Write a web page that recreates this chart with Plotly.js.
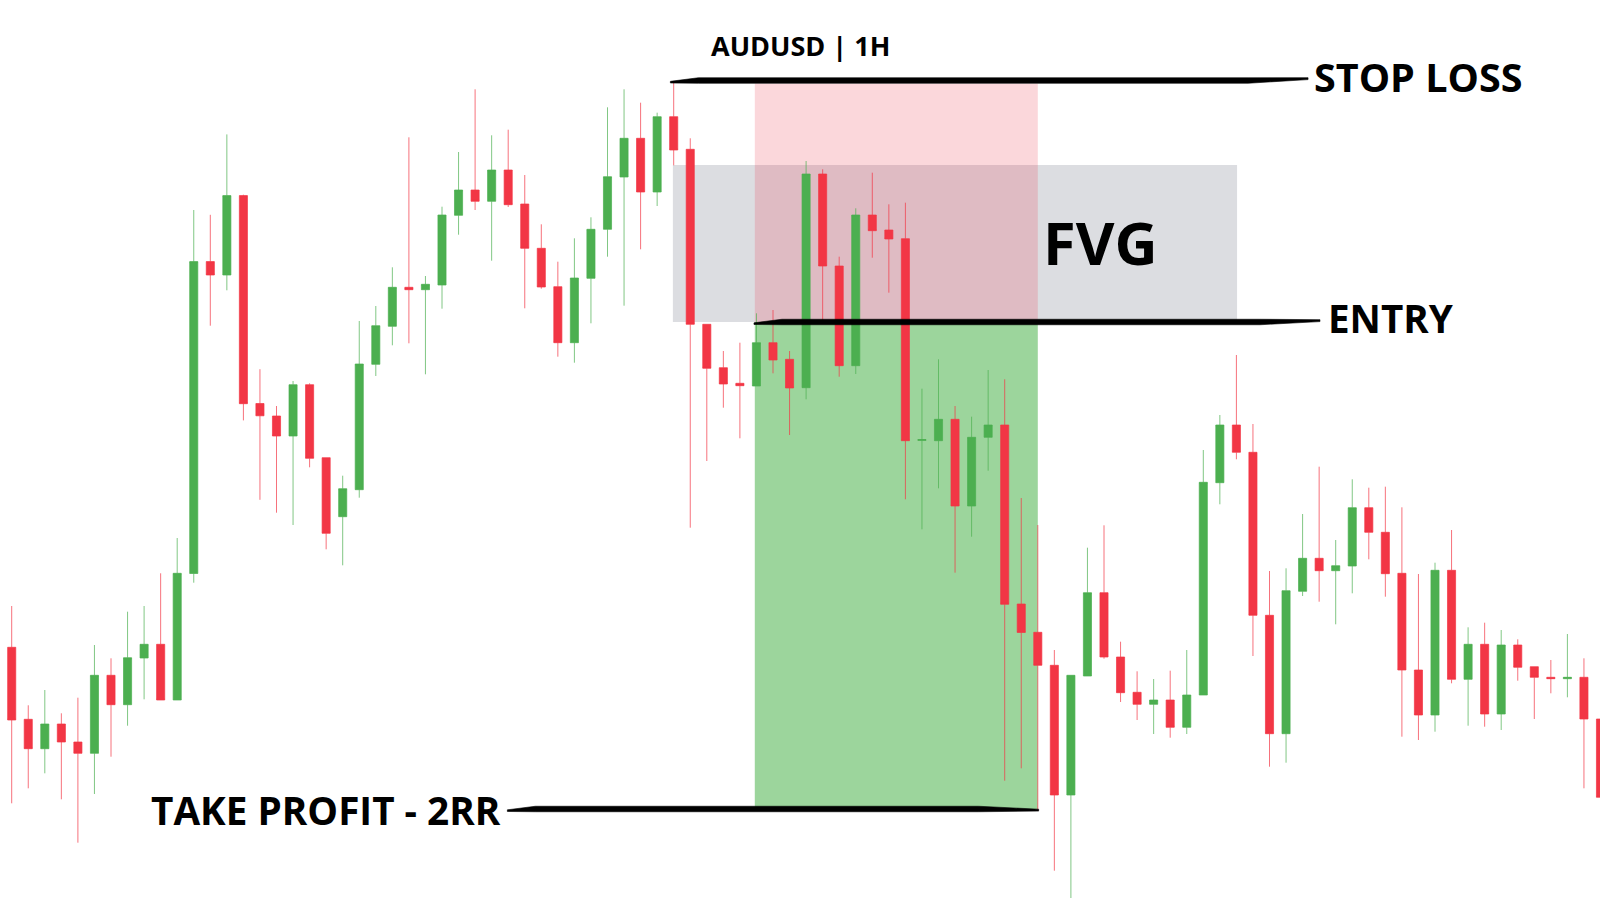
<!DOCTYPE html>
<html>
<head>
<meta charset="utf-8">
<script src="https://cdn.plot.ly/plotly-3.0.1.min.js"></script>
<style>
  html, body { margin: 0; padding: 0; background: #ffffff; }
  #chart { width: 1600px; height: 900px; }
</style>
</head>
<body>
<div id="chart"></div>
<script>
// ---- Data (price in pips above an arbitrary base) ----
const openP  = [307, 252.7, 180.7, 151.3, 176, 158, 146.7, 224.7, 195.3, 242, 255.7,
  200, 326.5, 638.4, 625, 704.4, 496.5, 484, 464, 515.3, 442.3,
  383.3, 410.3, 535.7, 573.7, 612.7, 610.3, 615, 684.7, 710, 698.7,
  730, 696, 651.7, 613.3, 557.3, 621.7, 670.7, 723, 761.7, 708,
  783.3, 750.7, 575.7, 532.3, 516.7, 514, 557.3, 540.7, 512.3, 726,
  634, 534.3, 685, 670, 661.3, 459.5, 459.3, 480.7, 394, 462.7,
  475, 296, 267.7, 234.7, 105, 224, 307.3, 243, 207.7, 195.7,
  200, 172.7, 205, 417.3, 475, 447.7, 284.7, 166.3, 308.7, 341.7,
  329.3, 334, 392.3, 367.7, 326.7, 230, 185, 329.7, 220.7, 255.7,
  186, 255, 233.3, 222.7, 221.3, 222.7, 181];
const highP  = [308, 294, 194.7, 210, 186.7, 202.3, 255, 241.7, 288.3, 294, 326.7,
  362, 690, 685.2, 765.6, 705.3, 530.8, 494, 519, 516.7, 442.3,
  424.3, 579, 594, 632.7, 762.7, 624, 693.3, 748, 810.7, 764.7,
  770.3, 725, 675.7, 638.3, 661.7, 682.7, 792.7, 810.7, 797.3, 787.3,
  819, 761.7, 575.7, 549, 557.3, 586.7, 590, 549, 739, 730.7,
  643.3, 691.7, 727.3, 695.7, 697.3, 511.3, 540.7, 494, 483.3, 530,
  520.7, 402, 375, 250, 224.7, 352.3, 374.7, 258.3, 228.7, 221,
  229.3, 250, 450, 485, 545, 476, 329, 331.7, 386, 433.3,
  360, 420.7, 412.3, 413.3, 392.7, 326, 337.3, 370, 272.7, 277.3,
  270, 260.7, 233.3, 240, 266, 241.7, 216.7];
const lowP   = [250, 96.7, 111.7, 126.7, 100.7, 57.3, 106, 143.3, 174.3, 200.7, 200,
  200, 317.3, 574.3, 609.7, 479.6, 400.2, 387.3, 375, 432.7, 350.7,
  334.7, 402.3, 524, 554.7, 556.7, 525.7, 591.3, 665.3, 690, 639.3,
  693, 591.7, 611.3, 543.3, 537.3, 576.7, 643.3, 594.3, 650.7, 694,
  734.7, 372.3, 439, 492.3, 461.7, 514, 526.7, 465, 500.7, 578,
  523.3, 526, 642.3, 607.3, 400.7, 370.7, 411.7, 327.3, 363.3, 429.3,
  119.3, 131.7, 89, 29.3, 2, 224, 241.3, 198, 180, 166,
  162.3, 166, 205, 395.7, 440.7, 244, 133.3, 137.3, 304, 298.3,
  275.7, 306.7, 340.7, 303.3, 163.3, 160, 168.3, 216.7, 174.3, 173.3,
  170, 219.3, 181, 206.7, 202.7, 111.7, 76];
const closeP = [252, 180, 151.3, 176, 158, 146.7, 224.7, 195.3, 242.3, 255.7, 200,
  326.7, 638.4, 625, 704.4, 496.3, 484.2, 464, 515.3, 441.7, 366.7,
  411.3, 536, 574.3, 612.7, 610.3, 615.7, 685, 710, 698.7, 730,
  695.3, 651.7, 613, 557.3, 622, 670.7, 723.3, 761.7, 708, 783.3,
  750, 575.7, 531.7, 516, 514.3, 557.3, 540, 512, 726, 634,
  534.3, 685, 669.3, 661, 459.3, 460.5, 480.7, 394, 462.7, 475,
  295.7, 267.5, 234.7, 105, 224.7, 307.3, 243, 207.3, 195.7, 200,
  172.7, 205, 417.7, 475, 447.7, 284.7, 166.3, 309.3, 341.7, 329.3,
  334.3, 392.3, 367.7, 326.3, 230, 185, 329.7, 220.7, 255.7, 186,
  255, 232.7, 222.7, 221.3, 222.7, 181, 102.7];
const firstBar = -1;   // first (partly cut) bar index

// Trade levels (same price units)
const stopLoss   = 819.5;
const entryLevel = 578;
const takeProfit = 91;
const fvgTop     = 735;
const fvgBottom  = 578;

// Labels
const chartTitle = 'AUDUSD | 1H';
const slLabel = 'STOP LOSS';
const entryLabel = 'ENTRY';
const fvgLabel = 'FVG';
const tpLabel = 'TAKE PROFIT - 2RR';

// ---- Layout geometry (styles / positions) ----
const W = 1600, H = 900;
const xRange = [-0.707, 95.97];
const yRange = [0, 900];
const pxX = (xRange[1] - xRange[0]) / W;   // x units per pixel
const pxY = (yRange[1] - yRange[0]) / H;   // y units per pixel

const bars = openP.map((_, i) => firstBar + i);

// zone bounds along time axis (bar units)
const tradeStart = 44.9, tradeEnd = 62.0;
const fvgStart = 39.95, fvgEnd = 74.04;
const slStart = 39.8, slEnd = 78.33;
const entStart = 44.85, entEnd = 79.05;
const tpStart = 29.95, tpEnd = 62.05;

// hand-drawn tapered stroke
function stroke(x0, x1, lvl, thick, tipRise) {
  const t = thick / 2 * pxY;
  const a = x0, b = x0 + 28 * pxX, c = x1 - 60 * pxX, d = x1;
  const r = tipRise * pxY;
  const pts = [
    [a, lvl - 0.3 * t], [b, lvl + t], [c, lvl + t], [d, lvl + r + 0.3 * t],
    [d, lvl + r - 0.4 * t], [c, lvl - t], [b, lvl - t], [a, lvl - 0.9 * t]
  ];
  return 'M' + pts.map(p => p[0].toFixed(4) + ',' + p[1].toFixed(3)).join(' L') + ' Z';
}

const shapes = [
  { type: 'rect', layer: 'below', xref: 'x', yref: 'y', x0: fvgStart, x1: fvgEnd, y0: fvgBottom, y1: fvgTop,
    fillcolor: '#dcdde1', line: { width: 0 } },
  { type: 'rect', layer: 'below', xref: 'x', yref: 'y', x0: tradeStart, x1: tradeEnd, y0: entryLevel, y1: stopLoss - 3,
    fillcolor: 'rgba(235,55,75,0.2)', line: { width: 0 } },
  { type: 'rect', layer: 'below', xref: 'x', yref: 'y', x0: tradeStart, x1: tradeEnd, y0: takeProfit, y1: entryLevel,
    fillcolor: '#9cd59c', line: { width: 0 } },
  { type: 'path', xref: 'x', yref: 'y', path: stroke(slStart, slEnd, stopLoss, 5.5, 2),
    fillcolor: '#000', line: { width: 0.6, color: '#000' } },
  { type: 'path', xref: 'x', yref: 'y', path: stroke(entStart, entEnd, entryLevel, 5.5, 1.5),
    fillcolor: '#000', line: { width: 0.6, color: '#000' } },
  { type: 'path', xref: 'x', yref: 'y', path: stroke(tpStart, tpEnd, takeProfit, 5.5, -1),
    fillcolor: '#000', line: { width: 0.6, color: '#000' } }
];

const fontBold = 'Open Sans, Lato, DejaVu Sans, sans-serif';
const annotations = [
  { xref: 'x', yref: 'y', x: 47.65, y: 855, text: '<b>' + chartTitle + '</b>', showarrow: false,
    xanchor: 'center', yanchor: 'middle', font: { family: fontBold, size: 27, color: '#000' } },
  { xref: 'x', yref: 'y', x: slEnd + 0.25, y: stopLoss + 4, text: '<b>' + slLabel + '</b>', showarrow: false,
    xanchor: 'left', yanchor: 'middle', font: { family: fontBold, size: 39.5, color: '#000' } },
  { xref: 'x', yref: 'y', x: entEnd + 0.35, y: entryLevel + 4, text: '<b>' + entryLabel + '</b>', showarrow: false,
    xanchor: 'left', yanchor: 'middle', font: { family: fontBold, size: 38.6, color: '#000' } },
  { xref: 'x', yref: 'y', x: 62.2, y: 659, text: '<b>' + fvgLabel + '</b>', showarrow: false,
    xanchor: 'left', yanchor: 'middle', font: { family: fontBold, size: 59.6, color: '#000' } },
  { xref: 'x', yref: 'y', x: tpStart - 0.25, y: takeProfit - 1, text: '<b>' + tpLabel + '</b>', showarrow: false,
    xanchor: 'right', yanchor: 'middle', font: { family: fontBold, size: 38.7, color: '#000' } }
];

const trace = {
  type: 'candlestick',
  x: bars,
  open: openP, high: highP, low: lowP, close: closeP,
  increasing: { line: { color: 'rgba(76,175,80,0.7)', width: 1 }, fillcolor: '#4caf50' },
  decreasing: { line: { color: 'rgba(242,54,69,0.7)', width: 1 }, fillcolor: '#f23645' },
  whiskerwidth: 0,
  hoverinfo: 'skip'
};

const layout = {
  width: W, height: H,
  margin: { l: 0, r: 0, t: 0, b: 0, pad: 0 },
  paper_bgcolor: '#ffffff', plot_bgcolor: '#ffffff',
  showlegend: false,
  boxgap: 0.3,
  xaxis: { type: 'linear', range: xRange, visible: false, showgrid: false, zeroline: false,
           rangeslider: { visible: false }, fixedrange: true },
  yaxis: { type: 'linear', range: yRange, visible: false, showgrid: false, zeroline: false, fixedrange: true },
  shapes: shapes,
  annotations: annotations
};

Plotly.newPlot('chart', [trace], layout, { staticPlot: true, displayModeBar: false });
</script>
</body>
</html>
